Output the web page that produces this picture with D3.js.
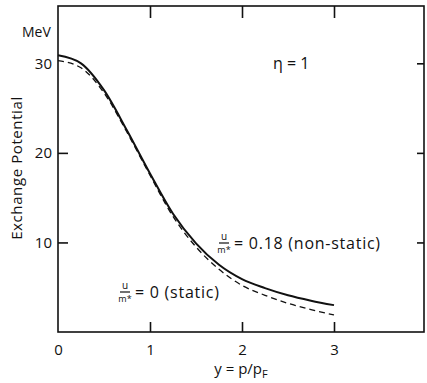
<!DOCTYPE html>
<html lang="en">
<head>
<meta charset="utf-8">
<script src="https://d3js.org/d3.v7.min.js"></script>
<style>
  body { margin: 0; background: #fff; }
  text { font-family: "Open Sans", sans-serif; fill: #111; }
  .axis path, .axis line { stroke: #111; stroke-width: 1.6; }
  .axis text { font-size: 15px; font-family: "Open Sans", sans-serif; }
</style>
</head>
<body>
<script>
// momentum y = p/pF
var yVals = [0, 0.25, 0.5, 0.75, 1.0, 1.25, 1.5, 1.75, 2.0, 2.25, 2.5, 2.75, 3.0];
// exchange potential (MeV), u/m* = 0.18 (non-static), solid
var nonStatic = [30.9, 30.0, 27.0, 22.5, 17.7, 13.2, 9.9, 7.5, 5.9, 4.9, 4.1, 3.5, 3.0];
// u/m* = 0 (static), dashed
var staticPot = [30.3, 29.5, 26.7, 22.3, 17.5, 12.9, 9.5, 7.0, 5.2, 4.1, 3.2, 2.5, 1.9];
var xTicks = [0, 1, 2, 3];
var yTicks = [10, 20, 30];

var w = 427, h = 383;
var mLeft = 58, mRight = 424, mTop = 6, mBottom = 332;

var x = d3.scaleLinear().domain([0, 4]).range([mLeft, mLeft + 368]);
var y = d3.scaleLinear().domain([0, 36.4]).range([mBottom, mTop]);

var svg = d3.select("body").append("svg")
  .attr("width", w)
  .attr("height", h);

// frame
svg.append("rect")
  .attr("x", mLeft).attr("y", mTop)
  .attr("width", mRight - mLeft).attr("height", mBottom - mTop)
  .attr("fill", "none").attr("stroke", "#111").attr("stroke-width", 1.6);

// bottom axis, ticks pointing inward
var xAxis = svg.append("g").attr("class", "axis")
  .attr("transform", "translate(0," + mBottom + ")")
  .call(d3.axisBottom(x).tickValues(xTicks).tickSizeInner(-10).tickSizeOuter(0).tickPadding(12).tickFormat(d3.format("d")));
xAxis.select(".domain").remove();
xAxis.selectAll(".tick").filter(function(d) { return d === 0; }).select("line").remove();

// top ticks
var topAxis = svg.append("g").attr("class", "axis")
  .attr("transform", "translate(0," + mTop + ")")
  .call(d3.axisTop(x).tickValues([1, 2, 3]).tickSizeInner(-12).tickSizeOuter(0).tickFormat(""));
topAxis.select(".domain").remove();

// left axis
var yAxis = svg.append("g").attr("class", "axis")
  .attr("transform", "translate(" + mLeft + ",0)")
  .call(d3.axisLeft(y).tickValues(yTicks).tickSizeInner(-10).tickSizeOuter(0).tickPadding(6));
yAxis.select(".domain").remove();
yAxis.selectAll(".tick").filter(function(d) { return d === 30; }).select("line").remove();

// right ticks
var rAxis = svg.append("g").attr("class", "axis")
  .attr("transform", "translate(" + mRight + ",0)")
  .call(d3.axisRight(y).tickValues(yTicks).tickSizeInner(-7).tickSizeOuter(0).tickFormat(""));
rAxis.select(".domain").remove();

// curves
var line = d3.line()
  .x(function(d) { return x(d[0]); })
  .y(function(d) { return y(d[1]); })
  .curve(d3.curveMonotoneX);

svg.append("path")
  .datum(d3.zip(yVals, staticPot))
  .attr("d", line)
  .attr("fill", "none").attr("stroke", "#111")
  .attr("stroke-width", 1.3).attr("stroke-dasharray", "6,4");

svg.append("path")
  .datum(d3.zip(yVals, nonStatic))
  .attr("d", line)
  .attr("fill", "none").attr("stroke", "#111")
  .attr("stroke-width", 2);

// labels
svg.append("text").attr("x", 22).attr("y", 37).style("font-size", "14px").text("MeV");

svg.append("text")
  .attr("transform", "translate(22,168) rotate(-90)")
  .attr("text-anchor", "middle")
  .style("font-size", "15px")
  .style("letter-spacing", "0.6px")
  .text("Exchange Potential");

var xl = svg.append("text").attr("x", 241).attr("y", 374)
  .attr("text-anchor", "middle").style("font-size", "15px");
xl.append("tspan").text("y = p/p");
xl.append("tspan").attr("dy", 4).style("font-size", "11px").text("F");

svg.append("text").attr("x", 273).attr("y", 69).style("font-size", "16px").text("\u03b7 = 1");

// u/m* labels
function uLabel(x0, yBar, rest) {
  var g = svg.append("g");
  g.append("text").attr("x", x0 + 5).attr("y", yBar - 3).attr("text-anchor", "middle")
    .style("font-size", "10px").text("u");
  g.append("line").attr("x1", x0).attr("x2", x0 + 10).attr("y1", yBar).attr("y2", yBar)
    .attr("stroke", "#111").attr("stroke-width", 1.2);
  g.append("text").attr("x", x0 + 5).attr("y", yBar + 10).attr("text-anchor", "middle")
    .style("font-size", "9px").text("m*");
  g.append("text").attr("x", x0 + 15).attr("y", yBar + 6)
    .style("font-size", "16px").style("letter-spacing", "0.75px").text(rest);
}
uLabel(219, 243, "= 0.18 (non-static)");
uLabel(120, 292, "= 0 (static)");
</script>
</body>
</html>
